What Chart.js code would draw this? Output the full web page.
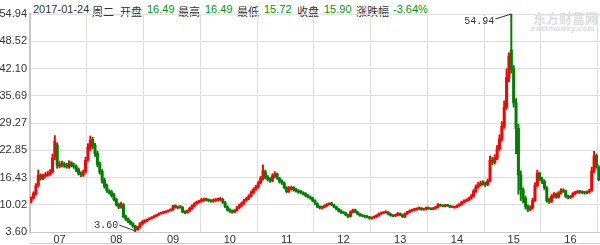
<!DOCTYPE html>
<html>
<head>
<meta charset="utf-8">
<script src="https://cdn.jsdelivr.net/npm/chart.js@4.4.0/dist/chart.umd.min.js"></script>
<style>
  body { margin: 0; background: #fff; }
  #wrap { position: relative; width: 600px; height: 245px; overflow: hidden; }
  #head span { position: absolute; top: 3px; font: 11px "Liberation Sans", "Noto Sans CJK SC", sans-serif; color: #333; white-space: nowrap; }
  #head span.v { color: #009900; }
  #mark1 { position: absolute; left: 533px; top: 8px; font: bold 13px "Noto Sans CJK SC", sans-serif; color: #dcdcdc; }
  #mark2 { position: absolute; left: 531px; top: 24px; font: bold 8px "Liberation Sans", sans-serif; color: #dcdcdc; letter-spacing: 0.3px; }
  #baseline { position: absolute; left: 30px; top: 243px; width: 570px; border-top: 1px solid #ccc; }
  canvas { position: absolute; left: 0; top: 0; }
</style>
</head>
<body>
<div id="wrap">
  <div id="mark1">东方财富网</div>
  <div id="mark2">eastmoney.com</div>
  <div id="head">
    <span style="left:33px">2017-01-24</span>
    <span style="left:92px">周二</span>
    <span style="left:120px">开盘</span>
    <span class="v" style="left:147px">16.49</span>
    <span style="left:178px">最高</span>
    <span class="v" style="left:205px">16.49</span>
    <span style="left:237px">最低</span>
    <span class="v" style="left:264px">15.72</span>
    <span style="left:297px">收盘</span>
    <span class="v" style="left:324px">15.90</span>
    <span style="left:356px">涨跌幅</span>
    <span class="v" style="left:393px">-3.64%</span>
  </div>
  <div id="baseline"></div>
  <canvas id="kChart" width="600" height="245"></canvas>
</div>
<script>
// half-month candles, 2007 .. Jan 2017 (24 per year)
const yearLabels = ['07', '08', '09', '10', '11', '12', '13', '14', '15', '16'];
const yTicks = [3.60, 10.02, 16.43, 22.85, 29.27, 35.69, 42.10, 48.52, 54.94];

const opens = [
  10.9, 11.7, 12.6, 14.6, 16.9, 16.2, 16.8, 17.1, 17.2, 17.8, 21.2, 24.1, 19.1, 19.6, 19.6, 19.3, 18.9, 19.9, 19.3, 19.1, 18.4, 17.3, 17.0, 17.8,
  20.8, 23.4, 25.4, 24.0, 22.2, 19.7, 17.9, 15.8, 14.5, 13.1, 13.0, 12.3, 11.3, 10.1, 9.4, 10.0, 7.3, 6.7, 6.1, 5.6, 5.0, 4.1, 4.7, 5.5,
  5.9, 6.2, 6.6, 6.9, 7.1, 7.4, 7.7, 8.0, 8.2, 8.3, 8.5, 8.7, 8.9, 9.8, 9.3, 9.6, 9.4, 8.4, 8.2, 8.6, 9.1, 9.7, 10.3, 10.6,
  10.9, 11.1, 11.4, 11.2, 11.0, 10.8, 11.0, 11.2, 11.2, 11.3, 10.5, 9.5, 8.8, 8.6, 8.3, 8.7, 9.3, 9.9, 10.4, 11.1, 11.5, 12.1, 12.9, 13.7,
  14.2, 15.2, 16.1, 17.8, 16.6, 16.1, 15.7, 16.9, 17.2, 16.2, 15.6, 15.1, 14.0, 13.2, 13.8, 14.1, 13.6, 13.3, 13.0, 12.8, 12.6, 12.2, 11.8, 11.6,
  11.0, 10.3, 9.6, 9.2, 9.5, 9.8, 10.1, 10.4, 10.0, 9.5, 9.0, 8.6, 8.2, 8.1, 7.6, 7.3, 8.3, 8.8, 8.3, 7.8, 7.5, 7.4, 7.3, 7.1,
  6.8, 7.0, 7.2, 7.5, 7.9, 8.1, 8.2, 8.3, 7.8, 7.5, 7.4, 7.6, 8.0, 7.6, 7.2, 7.9, 8.3, 8.6, 8.8, 8.9, 9.1, 9.2, 8.9, 9.0,
  9.3, 9.1, 9.0, 9.2, 9.5, 10.0, 9.8, 9.7, 9.9, 9.8, 9.5, 9.4, 9.5, 9.8, 10.1, 10.6, 10.9, 11.1, 11.5, 12.0, 13.1, 14.2, 14.7, 15.2,
  15.0, 14.8, 15.6, 20.6, 20.0, 21.0, 23.2, 25.5, 28.5, 33.0, 40.0, 46.5, 42.0, 34.0, 28.0, 17.0, 13.5, 11.5, 9.6, 8.9, 9.3, 11.0, 14.5, 17.5,
  16.1, 15.5, 14.0, 11.0, 10.8, 12.0, 12.5, 11.8, 12.8, 13.4, 13.2, 12.0, 11.7, 12.0, 12.6, 12.9, 13.1, 13.0, 12.9, 12.8, 13.0, 13.4, 18.0, 21.6,
  18.8
];
const closes = [
  11.6, 12.7, 14.5, 17.0, 16.3, 16.7, 17.0, 17.3, 17.7, 21.0, 25.0, 19.3, 19.4, 19.5, 19.2, 19.0, 19.8, 19.2, 19.0, 18.3, 17.4, 17.1, 17.7, 20.5,
  23.6, 25.2, 23.8, 22.0, 19.5, 17.7, 15.6, 14.3, 13.3, 12.9, 12.2, 11.2, 10.0, 9.5, 10.2, 7.2, 6.6, 6.0, 5.5, 4.9, 4.2, 4.8, 5.6, 6.0,
  6.3, 6.5, 6.8, 7.0, 7.3, 7.6, 7.9, 8.1, 8.2, 8.4, 8.6, 8.9, 9.7, 9.4, 9.4, 9.5, 8.3, 8.2, 8.6, 9.2, 9.8, 10.3, 10.7, 10.9,
  11.2, 11.3, 11.2, 11.0, 10.9, 11.1, 11.2, 11.3, 11.4, 10.6, 9.6, 8.8, 8.5, 8.3, 8.7, 9.3, 9.9, 10.4, 11.0, 11.5, 12.1, 12.9, 13.6, 14.2,
  15.1, 16.2, 18.0, 16.5, 16.0, 15.8, 16.8, 17.3, 16.3, 15.5, 15.2, 14.0, 13.1, 13.9, 14.0, 13.5, 13.3, 13.0, 12.9, 12.6, 12.2, 11.9, 11.6, 11.0,
  10.4, 9.5, 9.3, 9.5, 9.8, 10.1, 10.3, 10.0, 9.5, 9.0, 8.5, 8.2, 8.1, 7.6, 7.2, 8.3, 8.7, 8.3, 7.8, 7.5, 7.4, 7.2, 7.1, 6.9,
  7.0, 7.2, 7.5, 7.9, 8.1, 8.2, 8.3, 7.8, 7.5, 7.4, 7.6, 8.0, 7.6, 7.2, 7.9, 8.3, 8.6, 8.8, 8.9, 9.1, 9.2, 8.9, 9.0, 9.3,
  9.1, 9.0, 9.2, 9.5, 10.0, 9.8, 9.7, 9.9, 9.8, 9.5, 9.5, 9.5, 9.8, 10.1, 10.6, 10.9, 11.1, 11.5, 12.0, 13.2, 14.2, 14.7, 15.0, 15.0,
  14.8, 15.6, 20.5, 20.0, 21.0, 23.2, 25.5, 28.5, 33.0, 40.0, 45.0, 42.0, 34.0, 28.0, 17.0, 13.5, 11.5, 9.6, 8.9, 9.3, 11.0, 14.5, 17.5, 16.0,
  15.6, 14.0, 11.0, 10.7, 12.0, 12.5, 11.8, 12.8, 13.4, 13.2, 12.0, 11.7, 12.0, 12.6, 12.9, 13.1, 13.0, 12.9, 12.8, 13.0, 13.3, 18.0, 21.5, 19.0,
  15.9
];
const highs = [
  11.9, 13.1, 15.0, 18.2, 17.3, 17.2, 17.6, 17.9, 18.3, 21.9, 26.3, 24.6, 20.2, 20.3, 20.0, 19.8, 20.4, 20.2, 19.8, 19.4, 18.7, 17.8, 18.2, 21.2,
  24.4, 26.2, 25.9, 24.5, 22.6, 20.1, 18.3, 16.3, 14.9, 13.6, 13.4, 12.7, 11.6, 10.4, 10.6, 10.3, 7.6, 6.9, 6.3, 5.8, 5.2, 5.0, 5.8, 6.3,
  6.5, 6.7, 7.0, 7.2, 7.5, 7.8, 8.1, 8.3, 8.5, 8.6, 8.8, 9.1, 9.9, 10.0, 9.7, 9.8, 9.6, 8.6, 8.8, 9.4, 10.0, 10.5, 10.9, 11.1,
  11.5, 11.6, 11.6, 11.4, 11.2, 11.4, 11.5, 11.6, 11.8, 11.5, 10.8, 9.8, 9.1, 8.8, 8.9, 9.6, 10.2, 10.7, 11.3, 11.8, 12.4, 13.3, 14.0, 14.6,
  15.5, 16.7, 19.4, 18.2, 16.9, 16.4, 17.3, 17.8, 17.5, 16.5, 15.9, 15.4, 14.3, 14.3, 14.4, 14.3, 13.9, 13.6, 13.4, 13.1, 12.9, 12.5, 12.1, 11.8,
  11.2, 10.5, 9.8, 9.7, 10.0, 10.3, 10.5, 10.6, 10.1, 9.7, 9.2, 8.8, 8.4, 8.2, 7.8, 8.6, 9.0, 9.0, 8.5, 8.0, 7.7, 7.6, 7.5, 7.3,
  7.2, 7.4, 7.7, 8.1, 8.3, 8.4, 8.6, 8.4, 8.0, 7.7, 7.8, 8.2, 8.1, 7.8, 8.1, 8.5, 8.8, 9.0, 9.2, 9.3, 9.5, 9.4, 9.2, 9.5,
  9.5, 9.3, 9.4, 9.7, 10.3, 10.2, 10.0, 10.1, 10.1, 9.9, 9.7, 9.7, 10.0, 10.3, 10.9, 11.2, 11.4, 11.8, 12.4, 13.6, 14.7, 15.3, 15.6, 15.7,
  15.4, 16.1, 21.5, 21.2, 21.8, 24.0, 26.5, 29.6, 34.5, 42.0, 45.8, 54.94, 42.8, 35.0, 29.0, 18.0, 14.0, 12.0, 10.0, 9.8, 11.6, 15.2, 18.2, 17.6,
  16.5, 15.9, 14.3, 11.6, 12.4, 12.9, 12.8, 13.1, 13.8, 13.8, 13.5, 12.3, 12.2, 12.9, 13.2, 13.4, 13.4, 13.3, 13.2, 13.3, 13.7, 18.9, 22.6, 21.9,
  19.2
];
const lows = [
  10.4, 11.4, 12.3, 14.3, 15.8, 15.9, 16.4, 16.7, 16.9, 17.5, 20.6, 18.6, 18.7, 18.9, 18.8, 18.6, 18.6, 18.9, 18.6, 17.8, 17.0, 16.6, 16.7, 17.5,
  20.3, 22.8, 23.2, 21.4, 19.0, 17.2, 15.1, 13.9, 12.9, 12.5, 11.8, 10.9, 9.7, 9.1, 9.2, 7.0, 6.3, 5.8, 5.3, 4.7, 3.6, 4.0, 4.5, 5.3,
  5.7, 6.0, 6.4, 6.7, 6.9, 7.2, 7.5, 7.8, 7.9, 8.1, 8.3, 8.5, 8.7, 9.2, 9.1, 9.2, 8.1, 7.9, 8.0, 8.4, 8.9, 9.5, 10.1, 10.4,
  10.6, 10.8, 10.9, 10.7, 10.6, 10.6, 10.8, 10.9, 11.0, 10.3, 9.3, 8.5, 8.2, 8.0, 8.1, 8.5, 9.1, 9.6, 10.1, 10.8, 11.2, 11.8, 12.6, 13.4,
  13.9, 14.9, 15.8, 16.1, 15.6, 15.3, 15.4, 16.4, 16.0, 15.1, 14.8, 13.8, 12.8, 12.9, 13.5, 13.2, 13.0, 12.7, 12.6, 12.3, 11.9, 11.6, 11.3, 10.7,
  10.1, 9.3, 9.0, 9.0, 9.3, 9.6, 9.9, 9.8, 9.3, 8.8, 8.3, 8.0, 7.9, 7.4, 7.0, 7.1, 8.1, 8.1, 7.6, 7.3, 7.2, 7.0, 6.9, 6.6,
  6.6, 6.8, 7.0, 7.3, 7.7, 7.9, 8.0, 7.6, 7.3, 7.2, 7.2, 7.4, 7.4, 7.0, 7.0, 7.7, 8.1, 8.4, 8.6, 8.7, 8.9, 8.7, 8.7, 8.8,
  8.9, 8.8, 8.8, 9.0, 9.3, 9.6, 9.5, 9.5, 9.6, 9.3, 9.3, 9.2, 9.3, 9.6, 9.9, 10.4, 10.7, 10.9, 11.3, 11.8, 12.9, 13.9, 14.4, 14.6,
  14.3, 14.5, 15.4, 19.4, 19.6, 20.6, 22.8, 25.0, 28.0, 32.5, 39.0, 41.0, 33.0, 22.0, 12.5, 11.0, 10.5, 9.0, 8.4, 8.6, 9.0, 10.8, 14.2, 15.6,
  15.0, 13.6, 10.6, 10.3, 10.5, 11.7, 11.5, 11.6, 12.5, 12.9, 11.7, 11.4, 11.5, 11.8, 12.4, 12.7, 12.7, 12.6, 12.5, 12.6, 12.8, 13.2, 17.6, 18.6,
  15.7
];

const upColor = '#ff0000';
const downColor = '#008000';

const slots = closes.map((c, i) => i);
const candleColors = closes.map((c, i) => c >= opens[i] ? upColor : downColor);

// labels for highest high and lowest low, like the original
const extremeLabels = {
  id: 'extremeLabels',
  afterDatasetsDraw(chart) {
    const {ctx, scales: {x, y}} = chart;
    const hiIdx = highs.indexOf(Math.max(...highs));
    const loIdx = lows.indexOf(Math.min(...lows));
    ctx.save();
    ctx.strokeStyle = '#333';
    ctx.fillStyle = '#333';
    ctx.lineWidth = 1;
    ctx.font = '10px "Liberation Mono", monospace';
    ctx.textAlign = 'right';
    ctx.textBaseline = 'middle';

    let px = x.getPixelForValue(hiIdx), py = y.getPixelForValue(highs[hiIdx]);
    ctx.beginPath();
    ctx.moveTo(px, py);
    ctx.lineTo(px - 16, py + 5);
    ctx.stroke();
    ctx.fillText(highs[hiIdx].toFixed(2), px - 17, py + 7);

    px = x.getPixelForValue(loIdx); py = y.getPixelForValue(lows[loIdx]);
    ctx.beginPath();
    ctx.moveTo(px, py - 1);
    ctx.lineTo(px - 16, py - 7);
    ctx.stroke();
    ctx.fillText(lows[loIdx].toFixed(2), px - 17, py - 7);
    ctx.restore();
  }
};

const chart = new Chart(document.getElementById('kChart'), {
  type: 'bar',
  data: {
    labels: slots,
    datasets: [
      {
        data: lows.map((l, i) => [l, highs[i]]),
        backgroundColor: candleColors,
        barThickness: 1.3,
        grouped: false
      },
      {
        data: opens.map((o, i) => [o, closes[i]]),
        backgroundColor: candleColors,
        barPercentage: 1,
        categoryPercentage: 1,
        minBarLength: 1,
        grouped: false
      }
    ]
  },
  options: {
    responsive: false,
    animation: false,
    events: [],
    layout: { padding: { top: 14, right: 0, left: 0, bottom: 0 } },
    plugins: { legend: { display: false }, tooltip: { enabled: false } },
    scales: {
      x: {
        grid: {
          offset: true,
          drawTicks: false,
          color: (c) => (c.index > 0 && c.index % 24 === 0) ? '#dedede' : 'rgba(0,0,0,0)'
        },
        border: { color: '#c8c8c8' },
        ticks: {
          autoSkip: false,
          maxRotation: 0,
          padding: 1,
          color: '#333',
          font: { family: 'Liberation Sans', size: 11 },
          callback: (v, i) => i % 24 === 12 ? yearLabels[Math.floor(i / 24)] : ''
        },
        afterFit: (s) => { s.height = 13; }
      },
      y: {
        min: yTicks[0],
        max: yTicks[yTicks.length - 1],
        afterBuildTicks: (s) => { s.ticks = yTicks.map(v => ({ value: v })); },
        grid: { color: '#dedede', drawTicks: false },
        border: { color: '#c8c8c8', width: 2 },
        ticks: {
          padding: 3,
          color: '#333',
          font: { family: 'Liberation Sans', size: 11 },
          callback: (v) => v.toFixed(2)
        },
        afterFit: (s) => { s.width = 30; }
      }
    }
  },
  plugins: [extremeLabels]
});
</script>
</body>
</html>
